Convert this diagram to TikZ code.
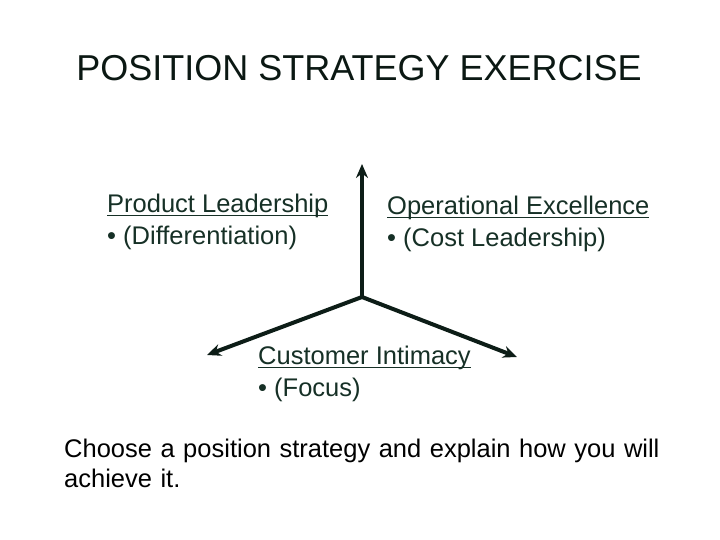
\documentclass[tikz,border=0pt]{standalone}
\usepackage{fontspec}
\setmainfont{Liberation Sans}
\usetikzlibrary{arrows.meta}
\definecolor{darkgreen}{RGB}{22,48,38}
\newcommand{\undertext}[1]{\setbox0\hbox{#1}\rlap{\rule[-3pt]{\wd0}{1.4pt}}\box0}

\tikzset{
  label text/.style={anchor=base west, inner sep=0pt, text=darkgreen, font=\fontsize{25.5}{30}\selectfont},
  axis/.style={line width=4pt, darkgreen!60!black, -{Stealth[length=14pt,width=12pt]}}
}

\begin{document}
\begin{tikzpicture}[x=1pt,y=1pt]
            \useasboundingbox (0,0) rectangle (720,540);
            \node [font=\fontsize{36}{40}\selectfont, text=darkgreen!50!black] (title) at (359,472) {POSITION STRATEGY EXERCISE};

            \coordinate (hub) at (362,243);
            \coordinate (up) at (362,376);
            \coordinate (left) at (207,185);
            \coordinate (right) at (517,183);

            \draw [axis] (hub) -- (up);
            \draw [axis] (hub) -- (left);
            \draw [axis] (hub) -- (right);

            \node [label text] (prod) at (107,327) {\undertext{Product Leadership}};
            \node [label text] (diff) at (107,295) {• (Differentiation)};
            \node [label text] (oper) at (387,325) {\undertext{Operational Excellence}};
            \node [label text] (cost) at (387,293) {• (Cost Leadership)};
            \node [label text] (cust) at (258,175) {\undertext{Customer Intimacy}};
            \node [label text] (focus) at (258,143) {• (Focus)};

            \node [label text, text=black, align=left, text width=640pt] (task) at (64,82)
              {Choose a position strategy and explain how you will\\ achieve it.};
\end{tikzpicture}
\end{document}
